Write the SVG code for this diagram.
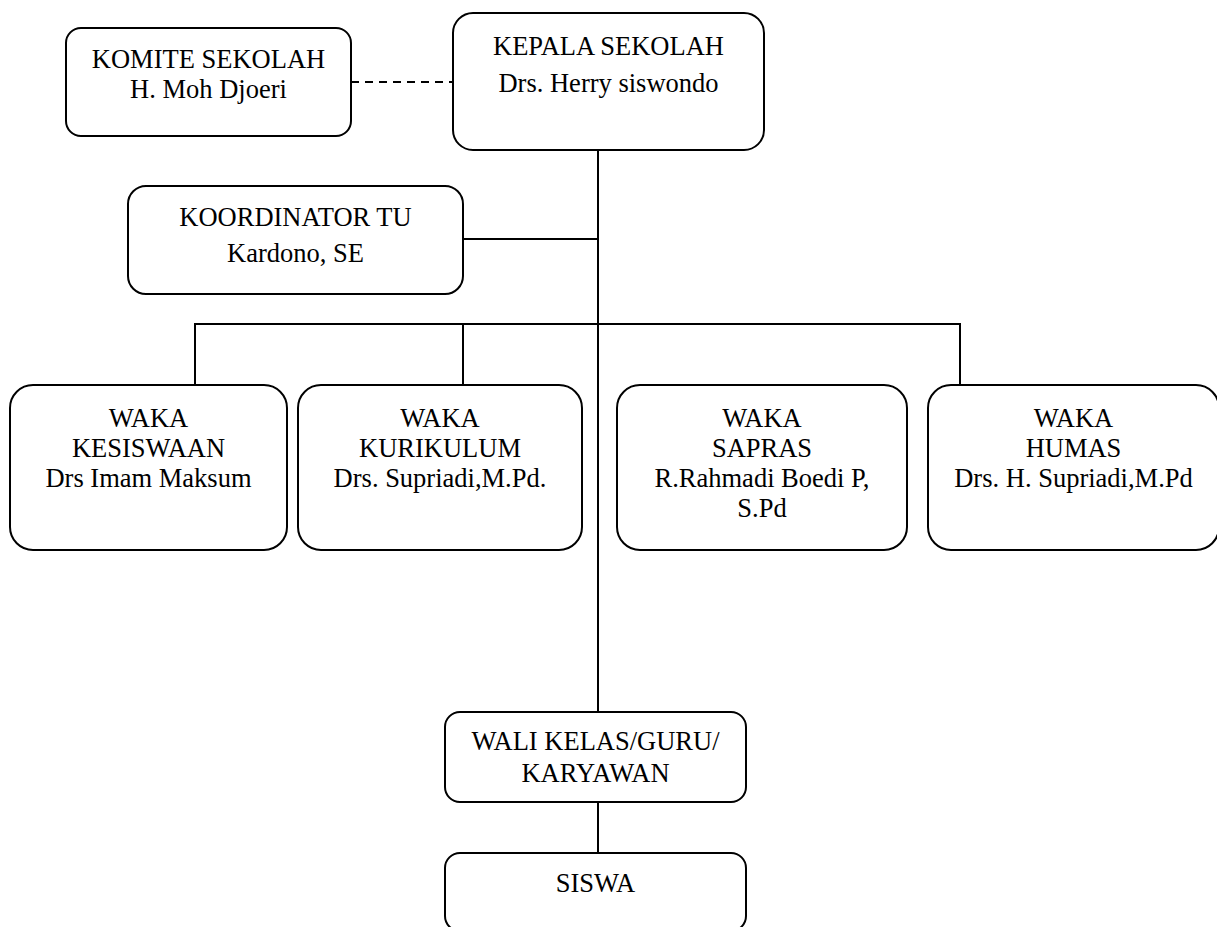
<svg xmlns="http://www.w3.org/2000/svg" width="1217" height="927" viewBox="0 0 1217 927">
<style>
.box{fill:#fff;stroke:#000;stroke-width:2}
.t{font-family:"Liberation Serif","Times New Roman",serif;font-size:26.5px;fill:#000;text-anchor:middle}
.c{stroke:#000;stroke-width:2;fill:none}
.d{stroke:#000;stroke-width:2;fill:none;stroke-dasharray:8,6}
</style>
<rect width="1217" height="927" fill="#fff"/>
<g id="connectors">
<line class="d" x1="351" y1="82" x2="453" y2="82"/>
<line class="c" x1="598" y1="150" x2="598" y2="712"/>
<line class="c" x1="463" y1="239" x2="598" y2="239"/>
<polyline class="c" points="195,385 195,324 960,324 960,385"/>
<line class="c" x1="463" y1="324" x2="463" y2="385"/>
<line class="c" x1="598" y1="802" x2="598" y2="853"/>
</g>
<g id="komite">
<rect class="box" x="66" y="28" width="285" height="108" rx="15"/>
<text class="t" x="208.5" y="68">KOMITE SEKOLAH</text>
<text class="t" x="208.5" y="98">H. Moh Djoeri</text>
</g>
<g id="kepala">
<rect class="box" x="453" y="13" width="311" height="137" rx="20"/>
<text class="t" x="608.5" y="55">KEPALA SEKOLAH</text>
<text class="t" x="608.5" y="92">Drs. Herry siswondo</text>
</g>
<g id="koordinator">
<rect class="box" x="128" y="186" width="335" height="108" rx="18"/>
<text class="t" x="295.5" y="226">KOORDINATOR TU</text>
<text class="t" x="295.5" y="262">Kardono, SE</text>
</g>
<g id="kesiswaan">
<rect class="box" x="10" y="385" width="277" height="165" rx="23"/>
<text class="t" x="148.5" y="427">WAKA</text>
<text class="t" x="148.5" y="457">KESISWAAN</text>
<text class="t" x="148.5" y="487">Drs Imam Maksum</text>
</g>
<g id="kurikulum">
<rect class="box" x="298" y="385" width="284" height="165" rx="23"/>
<text class="t" x="440" y="427">WAKA</text>
<text class="t" x="440" y="457">KURIKULUM</text>
<text class="t" x="440" y="487">Drs. Supriadi,M.Pd.</text>
</g>
<g id="sapras">
<rect class="box" x="617" y="385" width="290" height="165" rx="23"/>
<text class="t" x="762" y="427">WAKA</text>
<text class="t" x="762" y="457">SAPRAS</text>
<text class="t" x="762" y="487">R.Rahmadi Boedi P,</text>
<text class="t" x="762" y="517">S.Pd</text>
</g>
<g id="humas">
<rect class="box" x="928" y="385" width="291" height="165" rx="23"/>
<text class="t" x="1073.5" y="427">WAKA</text>
<text class="t" x="1073.5" y="457">HUMAS</text>
<text class="t" x="1073.5" y="487">Drs. H. Supriadi,M.Pd</text>
</g>
<g id="wali">
<rect class="box" x="445" y="712" width="301" height="90" rx="15"/>
<text class="t" x="595.5" y="750">WALI KELAS/GURU/</text>
<text class="t" x="595.5" y="782">KARYAWAN</text>
</g>
<g id="siswa">
<rect class="box" x="445" y="853" width="301" height="78" rx="15"/>
<text class="t" x="595.5" y="892">SISWA</text>
</g>
</svg>
